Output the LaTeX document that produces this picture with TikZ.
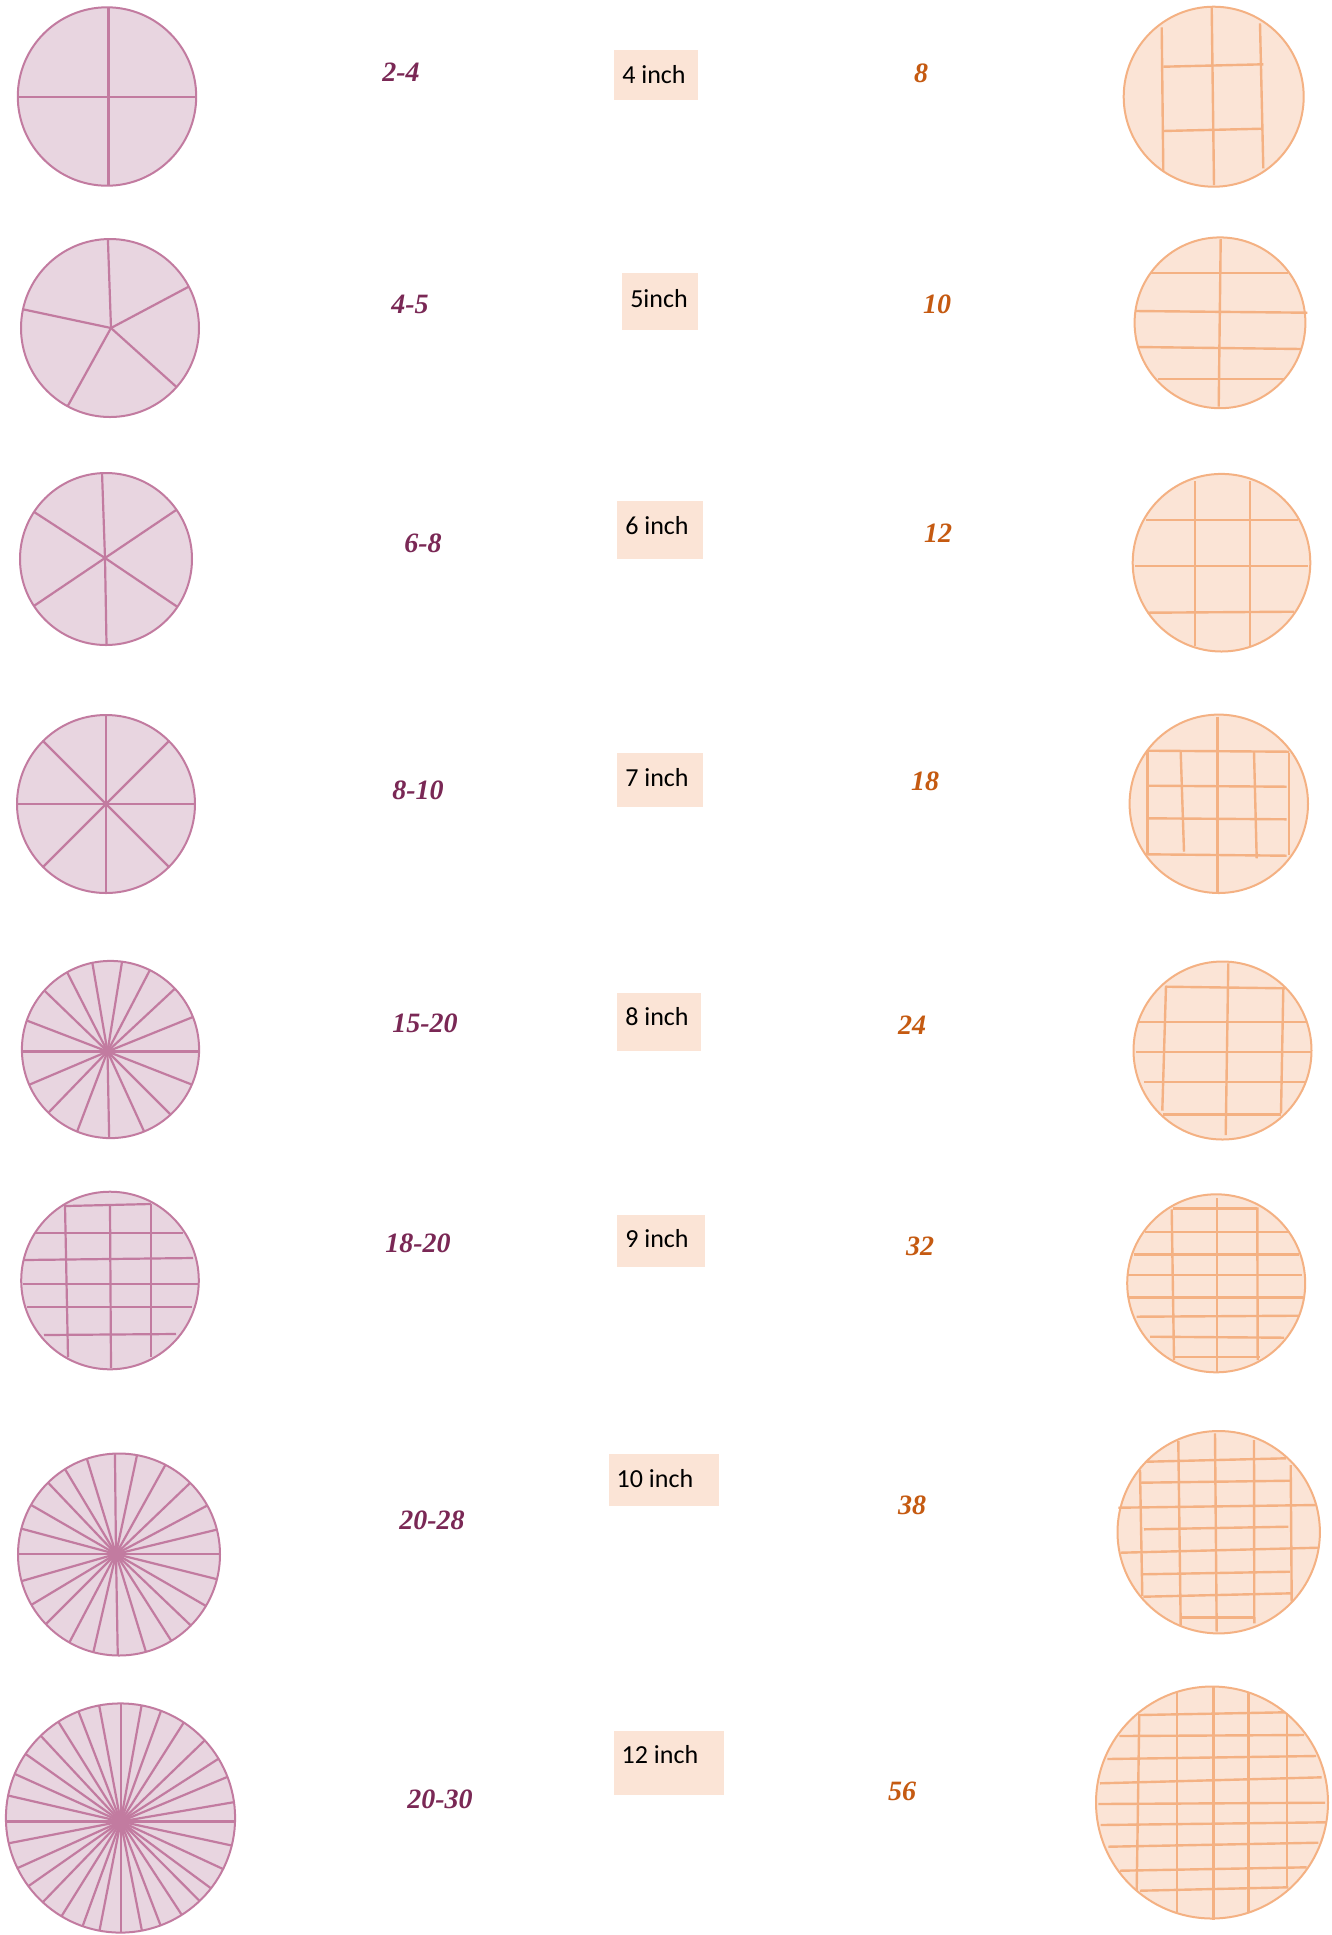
\documentclass[tikz,border=0pt]{standalone}
\usepackage{fontspec}
\setmainfont{Liberation Serif}
\newfontfamily\boxfont{Carlito}
\definecolor{pinkF}{HTML}{E8D5E0}
\definecolor{pinkS}{HTML}{C27BA0}
\definecolor{pinkT}{HTML}{7A2855}
\definecolor{orF}{HTML}{FBE4D6}
\definecolor{orS}{HTML}{F4B183}
\definecolor{orT}{HTML}{C55A11}
\tikzset{
  pinkfill/.style={fill=pinkF},
  pinkring/.style={draw=pinkS, line width=1pt},
  pinkline/.style={draw=pinkS, line width=1.1pt},
  orfill/.style={fill=orF},
  orring/.style={draw=orS, line width=1pt},
  orline/.style={draw=orS, line width=1.2pt},
  pnum/.style={text=pinkT, font=\fontsize{14}{16}\selectfont\bfseries\itshape, inner sep=0pt},
  onum/.style={text=orT, font=\fontsize{14}{16}\selectfont\bfseries\itshape, inner sep=0pt},
  inchbox/.style={fill=orF, draw=none, anchor=north west, inner sep=0pt},
  inchtxt/.style={text=black, font=\boxfont\fontsize{13}{15}\selectfont, inner sep=0pt}
}
\begin{document}
\begin{tikzpicture}[x=0.5pt,y=-0.5pt]
\useasboundingbox[fill=white] (0,0) rectangle (1332,1935);

% ---------- left (pink) wheels ----------
% L1
\fill[pinkfill] (107,96.5) circle[radius=44.6pt];
\begin{scope}\clip (107,96.5) circle[radius=44.6pt];
\foreach \a in {0,90,180,270} \draw[pinkline] (108.5,97) -- ++({-\a}:120);
\end{scope}
\draw[pinkring] (107,96.5) circle[radius=44.6pt];
% L2
\fill[pinkfill] (110,328) circle[radius=44.5pt];
\begin{scope}\clip (110,328) circle[radius=44.5pt];
\foreach \a in {92,28,-42,-119,168} \draw[pinkline] (111,328) -- ++({-\a}:120);
\end{scope}
\draw[pinkring] (110,328) circle[radius=44.5pt];
% L3
\fill[pinkfill] (106,559) circle[radius=43pt];
\begin{scope}\clip (106,559) circle[radius=43pt];
\foreach \a in {92,34,-34,-89,-146,147} \draw[pinkline] (105,558) -- ++({-\a}:120);
\end{scope}
\draw[pinkring] (106,559) circle[radius=43pt];
% L4
\fill[pinkfill] (106,804) circle[radius=44.5pt];
\begin{scope}\clip (106,804) circle[radius=44.5pt];
\foreach \a in {0,45,...,315} \draw[pinkline] (106,804) -- ++({-\a}:120);
\end{scope}
\draw[pinkring] (106,804) circle[radius=44.5pt];
% L5
\fill[pinkfill] (110.5,1049.5) circle[radius=44.3pt];
\begin{scope}\clip (110.5,1049.5) circle[radius=44.3pt];
\foreach \a in {99.7,80.8,62.5,43,22,0,-21.4,-45,-65.4,-88.9,-110.8,-134,-157,180,159,136,117}
  \draw[pinkline] (107.5,1051.5) -- ++({-\a}:130);
\end{scope}
\draw[pinkring] (110.5,1049.5) circle[radius=44.3pt];
% L6 (grid)
\fill[pinkfill] (110,1280.5) circle[radius=44.4pt];
\draw[pinkline] (65,1205) -- (68,1357);
\draw[pinkline] (110,1205) -- (111,1368);
\draw[pinkline] (151,1204) -- (151,1357);
\draw[pinkline] (66,1206) -- (151,1204);
\draw[pinkline] (35,1233) -- (183,1233);
\draw[pinkline] (24,1260) -- (193,1258);
\draw[pinkline] (23,1284) -- (198,1284);
\draw[pinkline] (27,1307) -- (192,1307);
\draw[pinkline] (44,1335) -- (176,1334);
\draw[pinkring] (110,1280.5) circle[radius=44.4pt];
% L7
\fill[pinkfill] (119,1554.5) circle[radius=50.5pt];
\begin{scope}\clip (119,1554.5) circle[radius=50.5pt];
\foreach \a in {90.6,78,61,43.8,28,13.6,0,-14,-30,-43.7,-57.5,-73,-89,-103,-117.8,-135,-149,-164,180,165,150,133.6,121,107}
  \draw[pinkline] (116,1554) -- ++({-\a}:150);
\end{scope}
\draw[pinkring] (119,1554.5) circle[radius=50.5pt];
% L8
\fill[pinkfill] (120.5,1818) circle[radius=57.3pt];
\begin{scope}\clip (120.5,1818) circle[radius=57.3pt];
\foreach \a in {90,79.8,70,57.5,44,32.7,22.7,9.7,0,-12.2,-24.9,-36.5,-45.2,-56.8,-69,-79,-90,-101,-110,-122,-134,-145,-155.7,-169,180,167,155.8,144.6,133,122,111,100.5}
  \draw[pinkline] (120.7,1821.5) -- ++({-\a}:160);
\end{scope}
\draw[pinkring] (120.5,1818) circle[radius=57.3pt];

% ---------- right (orange) grids ----------
% R1
\fill[orfill] (1213.7,96.7) circle[radius=45pt];
\draw[orline] (1161.7,27.3) -- (1163.3,171.7);
\draw[orline] (1211.7,7.3) -- (1214,185);
\draw[orline] (1260,23.3) -- (1263.3,168.3);
\draw[orline] (1163.3,66.7) -- (1263.3,64.3);
\draw[orline] (1162.7,131) -- (1262.3,128.7);
\draw[orring] (1213.7,96.7) circle[radius=45pt];
% R2
\fill[orfill] (1220,322.8) circle[radius=42.7pt];
\draw[orline] (1220.7,239) -- (1218.7,406.7);
\draw[orline] (1150.7,272.7) -- (1288.3,272.7);
\draw[orline] (1135.7,311) -- (1307.3,312.7);
\draw[orline] (1137.3,347) -- (1301.7,349);
\draw[orline] (1158.3,378.7) -- (1284,378.7);
\draw[orring] (1220,322.8) circle[radius=42.7pt];
% R3
\fill[orfill] (1221.5,562.7) circle[radius=44.4pt];
\draw[orline] (1195,481) -- (1195,645.7);
\draw[orline] (1249.7,481) -- (1249.7,645.7);
\draw[orline] (1146,520) -- (1298.3,520);
\draw[orline] (1135,566) -- (1308.3,566);
\draw[orline] (1147.7,612.7) -- (1294,611.7);
\draw[orring] (1221.5,562.7) circle[radius=44.4pt];
% R4
\fill[orfill] (1218.8,803.8) circle[radius=44.6pt];
\draw[orline] (1147.3,750.7) -- (1147.3,855);
\draw[orline] (1180.7,751.7) -- (1184,851.7);
\draw[orline] (1217.3,716.7) -- (1217.3,892.7);
\draw[orline] (1254,751.7) -- (1256.7,858.3);
\draw[orline] (1289,752.7) -- (1289,855);
\draw[orline] (1147.3,750.7) -- (1289,751.7);
\draw[orline] (1148.3,785.7) -- (1286.7,786.7);
\draw[orline] (1148.3,818.3) -- (1286.7,819.3);
\draw[orline] (1147.3,854.3) -- (1286.7,855.7);
\draw[orring] (1218.8,803.8) circle[radius=44.6pt];
% R5
\fill[orfill] (1222.5,1050.5) circle[radius=44.5pt];
\draw[orline] (1166,985.7) -- (1162.3,1110.7);
\draw[orline] (1228.3,963.3) -- (1225.7,1135);
\draw[orline] (1283.3,988.3) -- (1281,1113.3);
\draw[orline] (1166,986.7) -- (1285,988.3);
\draw[orline] (1138.3,1022) -- (1306.7,1022);
\draw[orline] (1136,1051.7) -- (1311,1051.7);
\draw[orline] (1144,1081.7) -- (1305,1081.7);
\draw[orline] (1162.7,1114.3) -- (1281,1114.3);
\draw[orring] (1222.5,1050.5) circle[radius=44.5pt];
% R6
\fill[orfill] (1216.2,1283.3) circle[radius=44.5pt];
\draw[orline] (1171.7,1209.3) -- (1174,1360);
\draw[orline] (1216.7,1198.3) -- (1216.7,1371.7);
\draw[orline] (1257.3,1207.3) -- (1257.7,1360);
\draw[orline] (1172.7,1208.3) -- (1256.7,1208.3);
\draw[orline] (1145,1231.7) -- (1290,1231.7);
\draw[orline] (1134,1254.3) -- (1299.3,1254.3);
\draw[orline] (1127.3,1275) -- (1302.3,1275);
\draw[orline] (1129.3,1297.3) -- (1303.3,1297.3);
\draw[orline] (1136.7,1316.7) -- (1299.3,1315.7);
\draw[orline] (1150,1336.7) -- (1284,1337.7);
\draw[orline] (1174,1356.7) -- (1260,1356.7);
\draw[orring] (1216.2,1283.3) circle[radius=44.5pt];
% R7
\fill[orfill] (1218.7,1532.2) circle[radius=50.6pt];
\draw[orline] (1140,1470) -- (1142.3,1596);
\draw[orline] (1178.3,1441) -- (1180.7,1625);
\draw[orline] (1215,1433.3) -- (1216.7,1631.7);
\draw[orline] (1254,1440) -- (1254.3,1623.3);
\draw[orline] (1290.7,1465) -- (1291.7,1601.7);
\draw[orline] (1146.7,1461.7) -- (1286,1458.3);
\draw[orline] (1140,1482.7) -- (1290.7,1480.7);
\draw[orline] (1118.3,1507.7) -- (1316.7,1505);
\draw[orline] (1144,1529.3) -- (1288.3,1526.7);
\draw[orline] (1120.7,1552.7) -- (1318.3,1547.7);
\draw[orline] (1141.7,1574.3) -- (1290,1571.7);
\draw[orline] (1143.3,1596.7) -- (1291.7,1593.3);
\draw[orline] (1180.7,1617.3) -- (1255,1617.3);
\draw[orring] (1218.7,1532.2) circle[radius=50.6pt];
% R8
\fill[orfill] (1212,1802.5) circle[radius=58pt];
\draw[orline] (1139.3,1714) -- (1136.7,1890);
\draw[orline] (1176.7,1692.3) -- (1176.7,1911.7);
\draw[orline] (1213.3,1686) -- (1213.3,1920);
\draw[orline] (1248.3,1692.3) -- (1248.3,1911.7);
\draw[orline] (1286.7,1713.3) -- (1286.7,1886.7);
\draw[orline] (1140,1715) -- (1285,1712.3);
\draw[orline] (1119.3,1736) -- (1304,1735);
\draw[orline] (1107.3,1759) -- (1316,1756);
\draw[orline] (1100,1783.3) -- (1321.7,1777.3);
\draw[orline] (1098.3,1804) -- (1325,1802.7);
\draw[orline] (1100.7,1825) -- (1326.7,1822.3);
\draw[orline] (1108.3,1846.7) -- (1318.3,1842.7);
\draw[orline] (1120,1870.7) -- (1306.7,1867.3);
\draw[orline] (1140,1890.7) -- (1288.3,1887.3);
\draw[orring] (1212,1802.5) circle[radius=58pt];

% ---------- slice counts (pink) ----------
\node[pnum] (p1) at (401,72) {2-4};
\node[pnum] (p2) at (410,304) {4-5};
\node[pnum] (p3) at (423,543) {6-8};
\node[pnum] (p4) at (418,790) {8-10};
\node[pnum] (p5) at (425,1023) {15-20};
\node[pnum] (p6) at (418,1243) {18-20};
\node[pnum] (p7) at (432,1520) {20-28};
\node[pnum] (p8) at (440,1799) {20-30};

% ---------- sizes ----------
\node[inchbox, minimum width=42pt, minimum height=25.3pt] (b1) at (613.5,49.4) {};
\node[inchtxt] (t1) at (654,75) {4 inch};
\node[inchbox, minimum width=37.7pt, minimum height=28.3pt] (b2) at (622,273) {};
\node[inchtxt] (t2) at (659,299) {5inch};
\node[inchbox, minimum width=42.7pt, minimum height=29pt] (b3) at (617,501) {};
\node[inchtxt] (t3) at (657,526) {6 inch};
\node[inchbox, minimum width=42.7pt, minimum height=27pt] (b4) at (617,753) {};
\node[inchtxt] (t4) at (657,778) {7 inch};
\node[inchbox, minimum width=42pt, minimum height=29pt] (b5) at (617,992.5) {};
\node[inchtxt] (t5) at (657,1017) {8 inch};
\node[inchbox, minimum width=44pt, minimum height=25.8pt] (b6) at (617,1215) {};
\node[inchtxt] (t6) at (657,1239) {9 inch};
\node[inchbox, minimum width=55pt, minimum height=26pt] (b7) at (608.6,1454) {};
\node[inchtxt] (t7) at (655,1479) {10 inch};
\node[inchbox, minimum width=55pt, minimum height=32pt] (b8) at (613.5,1731) {};
\node[inchtxt] (t8) at (660,1755) {12 inch};

% ---------- square pieces (orange) ----------
\node[onum] (o1) at (921,73) {8};
\node[onum] (o2) at (937,304) {10};
\node[onum] (o3) at (938,533) {12};
\node[onum] (o4) at (925,781) {18};
\node[onum] (o5) at (912,1025) {24};
\node[onum] (o6) at (920,1246) {32};
\node[onum] (o7) at (912,1505) {38};
\node[onum] (o8) at (902,1791) {56};
\end{tikzpicture}
\end{document}
